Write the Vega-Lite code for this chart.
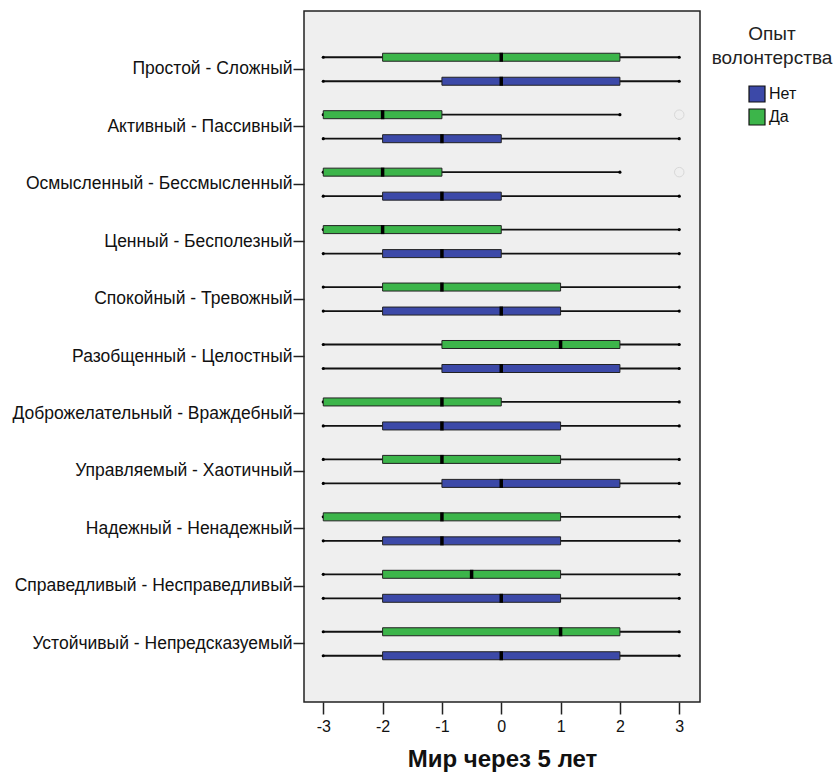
{
  "$schema": "https://vega.github.io/schema/vega-lite/v6.json",
  "width": 396,
  "height": 691,
  "autosize": {"type": "none"},
  "padding": {"left": 304, "top": 11, "right": 139, "bottom": 74},
  "background": "white",
  "config": {
    "font": "Liberation Sans",
    "view": {"fill": "#efefef", "stroke": "#222222", "strokeWidth": 1.5}
  },
  "datasets": {
    "stats": [
      {"item": "Простой - Сложный", "group": "Да", "min": -3, "q1": -2, "median": 0, "q3": 2, "max": 3},
      {"item": "Простой - Сложный", "group": "Нет", "min": -3, "q1": -1, "median": 0, "q3": 2, "max": 3},
      {"item": "Активный - Пассивный", "group": "Да", "min": -3, "q1": -3, "median": -2, "q3": -1, "max": 2},
      {"item": "Активный - Пассивный", "group": "Нет", "min": -3, "q1": -2, "median": -1, "q3": 0, "max": 3},
      {"item": "Осмысленный - Бессмысленный", "group": "Да", "min": -3, "q1": -3, "median": -2, "q3": -1, "max": 2},
      {"item": "Осмысленный - Бессмысленный", "group": "Нет", "min": -3, "q1": -2, "median": -1, "q3": 0, "max": 3},
      {"item": "Ценный - Бесполезный", "group": "Да", "min": -3, "q1": -3, "median": -2, "q3": 0, "max": 3},
      {"item": "Ценный - Бесполезный", "group": "Нет", "min": -3, "q1": -2, "median": -1, "q3": 0, "max": 3},
      {"item": "Спокойный - Тревожный", "group": "Да", "min": -3, "q1": -2, "median": -1, "q3": 1, "max": 3},
      {"item": "Спокойный - Тревожный", "group": "Нет", "min": -3, "q1": -2, "median": 0, "q3": 1, "max": 3},
      {"item": "Разобщенный - Целостный", "group": "Да", "min": -3, "q1": -1, "median": 1, "q3": 2, "max": 3},
      {"item": "Разобщенный - Целостный", "group": "Нет", "min": -3, "q1": -1, "median": 0, "q3": 2, "max": 3},
      {"item": "Доброжелательный - Враждебный", "group": "Да", "min": -3, "q1": -3, "median": -1, "q3": 0, "max": 3},
      {"item": "Доброжелательный - Враждебный", "group": "Нет", "min": -3, "q1": -2, "median": -1, "q3": 1, "max": 3},
      {"item": "Управляемый - Хаотичный", "group": "Да", "min": -3, "q1": -2, "median": -1, "q3": 1, "max": 3},
      {"item": "Управляемый - Хаотичный", "group": "Нет", "min": -3, "q1": -1, "median": 0, "q3": 2, "max": 3},
      {"item": "Надежный - Ненадежный", "group": "Да", "min": -3, "q1": -3, "median": -1, "q3": 1, "max": 3},
      {"item": "Надежный - Ненадежный", "group": "Нет", "min": -3, "q1": -2, "median": -1, "q3": 1, "max": 3},
      {"item": "Справедливый - Несправедливый", "group": "Да", "min": -3, "q1": -2, "median": -0.5, "q3": 1, "max": 3},
      {"item": "Справедливый - Несправедливый", "group": "Нет", "min": -3, "q1": -2, "median": 0, "q3": 1, "max": 3},
      {"item": "Устойчивый - Непредсказуемый", "group": "Да", "min": -3, "q1": -2, "median": 1, "q3": 2, "max": 3},
      {"item": "Устойчивый - Непредсказуемый", "group": "Нет", "min": -3, "q1": -2, "median": 0, "q3": 2, "max": 3}
    ],
    "outliers": [
      {"item": "Активный - Пассивный", "group": "Да", "value": 3},
      {"item": "Осмысленный - Бессмысленный", "group": "Да", "value": 3}
    ]
  },
  "data": {"name": "stats"},
  "encoding": {
    "y": {
      "field": "item",
      "type": "nominal",
      "sort": ["Простой - Сложный", "Активный - Пассивный", "Осмысленный - Бессмысленный", "Ценный - Бесполезный", "Спокойный - Тревожный", "Разобщенный - Целостный", "Доброжелательный - Враждебный", "Управляемый - Хаотичный", "Надежный - Ненадежный", "Справедливый - Несправедливый", "Устойчивый - Непредсказуемый"],
      "scale": {"paddingInner": 0.1645, "paddingOuter": 0.596, "align": 0.5},
      "axis": {"title": null, "domain": false, "labelFontSize": 17.5, "labelLimit": 0, "labelColor": "#111111", "tickColor": "#222222", "tickWidth": 1.5, "tickSize": 11, "labelPadding": 1}
    },
    "yOffset": {"field": "group", "type": "nominal", "sort": ["Да", "Нет"], "scale": {"paddingInner": 0, "paddingOuter": 0}}
  },
  "layer": [
    {
      "mark": {"type": "rule", "color": "#111111", "strokeWidth": 1.8},
      "encoding": {
        "x": {
          "field": "min", "type": "quantitative",
          "scale": {"domain": [-3.325, 3.35], "nice": false, "zero": false},
          "axis": {"values": [-3, -2, -1, 0, 1, 2, 3], "labelExpr": "datum.value + ''", "grid": false, "domain": false, "tickColor": "#222222", "tickWidth": 1.5, "tickSize": 12, "labelPadding": 4, "labelFontSize": 16, "labelColor": "#111111", "title": "Мир через 5 лет", "titleFontSize": 24, "titleFontWeight": "bold", "titleColor": "#111111", "titlePadding": 13}
        },
        "x2": {"field": "max"}
      }
    },
    {
      "mark": {"type": "point", "filled": true, "color": "black", "size": 10, "opacity": 1},
      "encoding": {"x": {"field": "min", "type": "quantitative"}}
    },
    {
      "mark": {"type": "point", "filled": true, "color": "black", "size": 10, "opacity": 1},
      "encoding": {"x": {"field": "max", "type": "quantitative"}}
    },
    {
      "mark": {"type": "bar", "stroke": "#222222", "strokeWidth": 1, "size": 8, "opacity": 1},
      "encoding": {
        "x": {"field": "q1", "type": "quantitative"},
        "x2": {"field": "q3"},
        "color": {
          "field": "group", "type": "nominal",
          "scale": {"domain": ["Нет", "Да"], "range": ["#3c49a8", "#3cb54a"]},
          "legend": {
            "title": ["Опыт", "волонтерства"],
            "orient": "none", "legendX": 408, "legendY": 14,
            "titleFontSize": 19, "titleFontWeight": "normal", "titleColor": "#222222",
            "titleAlign": "center", "titleAnchor": "middle", "titleLineHeight": 24, "titlePadding": 17,
            "labelFontSize": 16, "labelColor": "#111111",
            "symbolType": "square", "symbolSize": 256, "symbolStrokeColor": "#111111", "symbolStrokeWidth": 1.2, "symbolOpacity": 1,
            "symbolOffset": 0, "labelOffset": 3, "rowPadding": 1
          }
        }
      }
    },
    {
      "mark": {"type": "tick", "color": "black", "thickness": 3.5, "size": 9, "opacity": 1},
      "encoding": {"x": {"field": "median", "type": "quantitative"}}
    },
    {
      "data": {"name": "outliers"},
      "mark": {"type": "point", "filled": false, "stroke": "#d8d8d8", "strokeWidth": 1, "size": 90, "opacity": 1},
      "encoding": {"x": {"field": "value", "type": "quantitative"}}
    }
  ]
}
